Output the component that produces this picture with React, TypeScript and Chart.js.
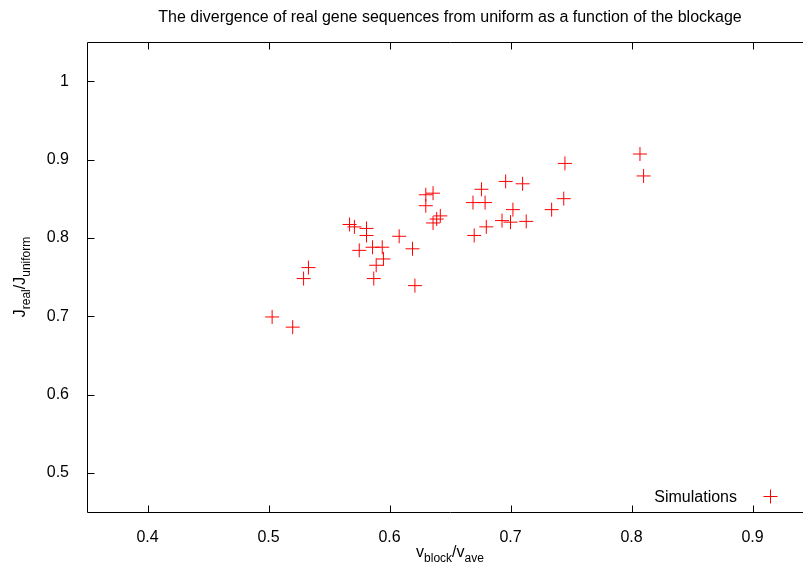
import React, { useEffect, useRef } from "react";
import { Chart, registerables } from "chart.js";

Chart.register(...registerables);

const titleText = "The divergence of real gene sequences from uniform as a function of the blockage";
const seriesLabel = "Simulations";

const xValues = [
  0.503, 0.520, 0.529, 0.533,
  0.567, 0.571, 0.581, 0.581, 0.575, 0.586, 0.594, 0.595, 0.589, 0.587,
  0.608, 0.619, 0.621,
  0.630, 0.636, 0.630,
  0.642, 0.639, 0.636,
  0.676, 0.669, 0.679, 0.670, 0.680,
  0.696, 0.710, 0.702, 0.693, 0.700, 0.713,
  0.745, 0.744, 0.734,
  0.807, 0.810,
];
const yValues = [
  0.699, 0.686, 0.748, 0.762,
  0.817, 0.814, 0.812, 0.803, 0.784, 0.788, 0.788, 0.773, 0.765, 0.748,
  0.802, 0.786, 0.739,
  0.855, 0.857, 0.841,
  0.828, 0.824, 0.819,
  0.862, 0.845, 0.845, 0.803, 0.814,
  0.872, 0.869, 0.836, 0.822, 0.820, 0.821,
  0.895, 0.850, 0.836,
  0.907, 0.879,
];

const xTicks = [0.4, 0.5, 0.6, 0.7, 0.8, 0.9];
const yTicks = [0.5, 0.6, 0.7, 0.8, 0.9, 1.0];
const xMin = 0.35, xMax = 0.95, yMin = 0.45, yMax = 1.05;

const xTitleParts: [string, boolean][] = [["v", false], ["block", true], ["/v", false], ["ave", true]];
const yTitleParts: [string, boolean][] = [["J", false], ["real", true], ["/J", false], ["uniform", true]];

const FONT = "'Liberation Sans', Arial, Helvetica, sans-serif";
const MAIN = 16;
const SUB = 12;
const W = 830;
const H = 566;

function drawParts(ctx: CanvasRenderingContext2D, parts: [string, boolean][], cx: number, baseY: number) {
  let total = 0;
  for (const [t, s] of parts) {
    ctx.font = `${s ? SUB : MAIN}px ${FONT}`;
    total += ctx.measureText(t).width;
  }
  let x = cx - total / 2;
  for (const [t, s] of parts) {
    ctx.font = `${s ? SUB : MAIN}px ${FONT}`;
    ctx.fillText(t, x, baseY + (s ? 5 : 0));
    x += ctx.measureText(t).width;
  }
}

const decorPlugin = {
  id: "decor",
  afterDraw(chart: any) {
    const { ctx, chartArea: a, scales } = chart;
    const xs = scales.x, ys = scales.y;
    ctx.save();
    ctx.strokeStyle = "#000";
    ctx.lineWidth = 1;
    const L = Math.round(a.left) + 0.5;
    const R = Math.round(a.right) + 0.5;
    const T = Math.round(a.top) + 0.5;
    const B = Math.round(a.bottom) + 0.5;
    ctx.beginPath();
    ctx.moveTo(R, T); ctx.lineTo(L, T); ctx.lineTo(L, B); ctx.lineTo(R, B);
    ctx.stroke();
    const tl = 7;
    ctx.beginPath();
    for (const v of xTicks) {
      const px = Math.round(xs.getPixelForValue(v)) + 0.5;
      ctx.moveTo(px, B); ctx.lineTo(px, B - tl);
      ctx.moveTo(px, T); ctx.lineTo(px, T + tl);
    }
    for (const v of yTicks) {
      const py = Math.round(ys.getPixelForValue(v)) + 0.5;
      ctx.moveTo(L, py); ctx.lineTo(L + tl, py);
    }
    ctx.stroke();

    ctx.fillStyle = "#000";
    ctx.textAlign = "center";
    ctx.textBaseline = "alphabetic";
    ctx.font = `${MAIN}px ${FONT}`;
    ctx.fillText(titleText, (a.left + a.right) / 2, 22);

    ctx.textAlign = "left";
    drawParts(ctx, xTitleParts, (a.left + a.right) / 2, 557);

    ctx.save();
    ctx.translate(25, (a.top + a.bottom) / 2);
    ctx.rotate(-Math.PI / 2);
    drawParts(ctx, yTitleParts, 0, 0);
    ctx.restore();

    ctx.font = `${MAIN}px ${FONT}`;
    ctx.textAlign = "right";
    ctx.fillText(seriesLabel, a.right - 76, a.bottom - 10);
    const cx = a.right - 42.5, cy = a.bottom - 15.5;
    ctx.strokeStyle = "#ff0000";
    ctx.beginPath();
    ctx.moveTo(cx - 7, cy); ctx.lineTo(cx + 7, cy);
    ctx.moveTo(cx, cy - 7); ctx.lineTo(cx, cy + 7);
    ctx.stroke();
    ctx.restore();
  },
};

export default function App() {
  const ref = useRef<HTMLCanvasElement | null>(null);
  useEffect(() => {
    if (!ref.current) return;
    const chart = new Chart(ref.current, {
      type: "scatter",
      data: {
        datasets: [
          {
            label: seriesLabel,
            data: xValues.map((x, i) => ({ x, y: yValues[i] })),
            pointStyle: "cross",
            pointRadius: 7,
            pointHoverRadius: 7,
            borderColor: "#ff0000",
            backgroundColor: "#ff0000",
            pointBorderWidth: 1,
          },
        ],
      },
      options: {
        animation: false,
        responsive: false,
        events: [],
        layout: { padding: { top: 42, right: W - 813, left: 0, bottom: 0 } },
        plugins: { legend: { display: false }, title: { display: false }, tooltip: { enabled: false } },
        scales: {
          x: {
            type: "linear",
            min: xMin,
            max: xMax,
            grid: { display: false },
            border: { display: false },
            afterBuildTicks: (s: any) => { s.ticks = xTicks.map((v) => ({ value: v })); },
            afterFit: (s: any) => { s.height = H - 512; },
            ticks: {
              color: "#000",
              padding: 8,
              maxRotation: 0,
              font: { family: FONT, size: MAIN },
              callback: (v: any) => String(+Number(v).toFixed(2)),
            },
          },
          y: {
            type: "linear",
            min: yMin,
            max: yMax,
            grid: { display: false },
            border: { display: false },
            afterBuildTicks: (s: any) => { s.ticks = yTicks.map((v) => ({ value: v })); },
            afterFit: (s: any) => { s.width = 87; },
            ticks: {
              color: "#000",
              padding: 10,
              font: { family: FONT, size: MAIN },
              callback: (v: any) => String(+Number(v).toFixed(2)),
            },
          },
        },
      },
      plugins: [decorPlugin],
    } as any);
    return () => chart.destroy();
  }, []);
  return (
    <div style={{ position: "fixed", left: 0, top: 0, width: 803, height: 566, overflow: "hidden", background: "#fff" }}>
      <canvas ref={ref} width={W} height={H} style={{ display: "block" }} />
    </div>
  );
}
